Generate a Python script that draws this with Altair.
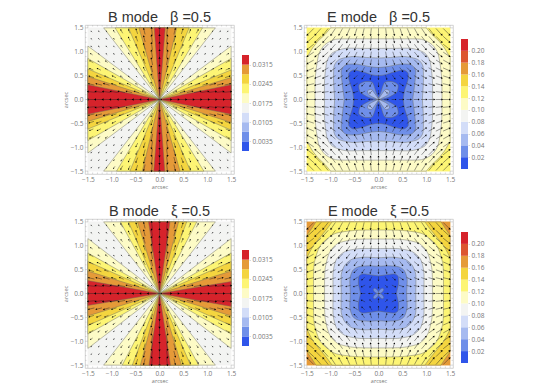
import altair as alt
import pandas as pd
import math

# ---------- colours and colour-bar levels ----------
b_bar_colors = ["#2f55ea", "#6f8fe9", "#a6baf0", "#d3ddf8", "#f3f4f2", "#fdfbc6", "#fdf574", "#f4d53f", "#e59a38", "#d6232b"]
e_bar_colors = ["#2f55ea", "#6f8fe9", "#a6baf0", "#d3ddf8", "#f3f4f2", "#fdfbc6", "#fdf574", "#f4d53f", "#e59a38", "#dc5630", "#d6232b"]
b_bar_step = 0.0035
e_bar_step = 0.02
b_bar_labels = [0.0035, 0.0105, 0.0175, 0.0245, 0.0315]
e_bar_labels = [0.02, 0.04, 0.06, 0.08, 0.10, 0.12, 0.14, 0.16, 0.18, 0.20]
major_ticks = [-1.5, -1.0, -0.5, 0.0, 0.5, 1.0, 1.5]
minor_ticks = [-1.4, -1.3, -1.2, -1.1, -0.9, -0.8, -0.7, -0.6, -0.4, -0.3, -0.2, -0.1,
               0.1, 0.2, 0.3, 0.4, 0.6, 0.7, 0.8, 0.9, 1.1, 1.2, 1.3, 1.4]

# ---------- B mode wedges: where each band's boundary meets the frame ----------
wedge_colors = ["#fdfbc6", "#fdf574", "#f4d53f", "#e59a38", "#d6232b"]
b1_side_upper = [1.12, 0.86, 0.62, 0.46, 0.31]
b1_side_lower = [1.12, 0.86, 0.64, 0.48, 0.31]
b1_top_left = [1.17, 0.93, 0.65, 0.43, 0.11]
b1_top_right = [1.17, 0.90, 0.62, 0.36, 0.12]
b2_side_upper = [1.15, 0.85, 0.67, 0.47, 0.25]
b2_side_lower = [1.15, 0.85, 0.67, 0.47, 0.27]
b2_top_left = [1.17, 0.82, 0.65, 0.46, 0.23]
b2_top_right = [1.17, 0.78, 0.57, 0.40, 0.22]

# ---------- E mode contours, first quadrant (x, y) ----------
e1_bg = "#fdf574"
e1_contours = [
    ("#fdfbc6", "linear-closed", [1.5, 1.5, 1.38, 1.27, 1.12, 1.0, 0.5, 0.0], [0.0, 0.88, 1.08, 1.22, 1.36, 1.5, 1.5, 1.5]),
    ("#f3f4f2", "cardinal-closed", [1.33, 1.32, 1.25, 1.12, 0.9, 0.5, 0.0], [0.0, 0.5, 0.95, 1.15, 1.26, 1.27, 1.27]),
    ("#d3ddf8", "cardinal-closed", [1.13, 1.13, 1.08, 0.96, 0.7, 0.3, 0.0], [0.0, 0.4, 0.8, 0.98, 1.07, 1.07, 1.07]),
    ("#a6baf0", "cardinal-closed", [0.92, 0.94, 0.93, 0.82, 0.55, 0.25, 0.0], [0.0, 0.35, 0.7, 0.84, 0.9, 0.88, 0.87]),
    ("#6f8fe9", "cardinal-closed", [0.72, 0.75, 0.78, 0.68, 0.45, 0.2, 0.0], [0.0, 0.25, 0.6, 0.73, 0.74, 0.69, 0.67]),
    ("#2f55ea", "cardinal-closed", [0.52, 0.55, 0.62, 0.62, 0.52, 0.3, 0.15, 0.0], [0.0, 0.2, 0.42, 0.55, 0.62, 0.57, 0.52, 0.5]),
]
e2_bg = "#e59a38"
e2_contours = [
    ("#f4d53f", "linear-closed", [1.5, 1.5, 1.4, 1.31, 0.5, 0.0], [0.0, 1.22, 1.36, 1.5, 1.5, 1.5]),
    ("#fdf574", "linear-closed", [1.5, 1.5, 1.38, 1.22, 1.08, 0.97, 0.5, 0.0], [0.0, 0.75, 0.98, 1.18, 1.35, 1.5, 1.5, 1.5]),
    ("#fdfbc6", "cardinal-closed", [1.36, 1.35, 1.22, 0.92, 0.5, 0.0], [0.0, 0.6, 1.0, 1.25, 1.32, 1.33]),
    ("#f3f4f2", "cardinal-closed", [1.13, 1.12, 1.03, 0.85, 0.5, 0.0], [0.0, 0.5, 0.85, 1.05, 1.13, 1.14]),
    ("#d3ddf8", "cardinal-closed", [0.95, 0.95, 0.88, 0.7, 0.4, 0.0], [0.0, 0.45, 0.72, 0.88, 0.94, 0.94]),
    ("#a6baf0", "cardinal-closed", [0.78, 0.78, 0.7, 0.55, 0.3, 0.0], [0.0, 0.4, 0.6, 0.72, 0.76, 0.75]),
    ("#6f8fe9", "cardinal-closed", [0.59, 0.6, 0.54, 0.42, 0.2, 0.0], [0.0, 0.3, 0.48, 0.56, 0.58, 0.57]),
    ("#2f55ea", "cardinal-closed", [0.38, 0.42, 0.41, 0.33, 0.15, 0.0], [0.0, 0.2, 0.36, 0.41, 0.39, 0.37]),
]
# petals along the diagonals, first-quadrant copy (x, y)
e1_petals = [
    ("#6f8fe9", [0.0, 0.2, 0.38, 0.41, 0.3, 0.13, 0.05], [0.0, 0.04, 0.15, 0.3, 0.37, 0.36, 0.15]),
    ("#a6baf0", [0.0, 0.1, 0.2, 0.23, 0.15, 0.06], [0.0, 0.04, 0.1, 0.18, 0.21, 0.1]),
]
e2_petals = [
    ("#6f8fe9", [0.0, 0.07, 0.11, 0.08, 0.02], [0.0, 0.02, 0.08, 0.11, 0.07]),
]

# ---------- arrows: 19 x 19 field, one quadrant tables indexed [row][col] ----------
arrow_step = 3 / 19
arrow_deg = [
    [0, 0, 0, 0, 0, 0, 0, 0, 0, 0],
    [90, 45, 27, 18, 14, 11, 9, 8, 7, 6],
    [90, 63, 45, 34, 27, 22, 18, 16, 14, 13],
    [90, 72, 56, 45, 37, 31, 27, 23, 21, 18],
    [90, 76, 63, 53, 45, 39, 34, 30, 27, 24],
    [90, 79, 68, 59, 51, 45, 40, 36, 32, 29],
    [90, 81, 72, 63, 56, 50, 45, 41, 37, 34],
    [90, 82, 74, 67, 60, 54, 49, 45, 41, 38],
    [90, 83, 76, 69, 63, 58, 53, 49, 45, 42],
    [90, 84, 77, 72, 66, 61, 56, 52, 48, 45],
]
b_len = [
    [8, 16, 16, 16, 16, 16, 16, 16, 16, 16],
    [16, 3, 8, 10, 12, 14, 15, 15, 15, 15],
    [16, 8, 3, 5, 8, 9, 10, 12, 12, 12],
    [16, 10, 5, 3, 4, 5, 8, 8, 10, 10],
    [16, 12, 8, 4, 3, 3, 5, 5, 8, 8],
    [16, 14, 9, 5, 3, 3, 3, 5, 5, 8],
    [16, 15, 10, 8, 5, 3, 3, 3, 3, 5],
    [16, 15, 12, 8, 5, 5, 3, 3, 3, 3],
    [16, 15, 12, 10, 8, 5, 3, 3, 3, 3],
    [16, 15, 12, 10, 8, 8, 5, 3, 3, 3],
]
e_len = [
    [3, 8, 8, 9, 9, 10, 11, 12, 13, 14],
    [8, 6, 8, 9, 9, 10, 11, 12, 13, 14],
    [8, 8, 8, 9, 10, 10, 11, 12, 13, 14],
    [9, 9, 9, 9, 10, 11, 11, 12, 13, 14],
    [9, 9, 10, 10, 10, 11, 12, 13, 14, 15],
    [10, 10, 10, 11, 11, 12, 12, 13, 14, 15],
    [11, 11, 11, 11, 12, 12, 13, 14, 15, 16],
    [12, 12, 12, 12, 13, 13, 14, 15, 16, 17],
    [13, 13, 13, 13, 14, 14, 15, 16, 17, 18],
    [14, 14, 14, 14, 15, 15, 16, 17, 18, 19],
]

DOM = [-1.56, 1.56]
AX = alt.Axis(values=major_ticks, format=".1f", domain=False, grid=False, ticks=False,
              labelFontSize=6.5, labelColor="#777777", labelPadding=2,
              titleFontSize=5.5, titleColor="#777777", titleFontWeight="normal", titlePadding=2,
              labelFont="Open Sans", titleFont="Open Sans", labelFlush=False)
SC = alt.Scale(domain=DOM, nice=False)


def xe(field="x"):
    return alt.X(f"{field}:Q", scale=SC, title="arcsec", axis=AX)


def ye(field="y"):
    return alt.Y(f"{field}:Q", scale=SC, title="arcsec", axis=AX)


LINE = "#6b6b5c"


def polygon(xs, ys, color, interp, stroke=True):
    df = pd.DataFrame({"x": xs, "y": ys, "i": range(len(xs))})
    kw = {"tension": 0.3} if interp.startswith("cardinal") else {}
    return alt.Chart(df).mark_line(
        interpolate=interp, fill=color, stroke=LINE if stroke else color,
        strokeWidth=0.45, clip=True, **kw,
    ).encode(x=xe(), y=ye(), order="i:Q")


def mirrored(qx, qy):
    xs, ys = list(qx), list(qy)
    xs += [-v for v in reversed(qx[:-1])]
    ys += list(reversed(qy[:-1]))
    xs2 = [-v for v in qx[1:]] + [v for v in reversed(qx[1:-1])]
    ys2 = [-v for v in qy[1:]] + [-v for v in reversed(qy[1:-1])]
    return xs + xs2, ys + ys2


def ticks():
    out = []
    for vals, size in ((major_ticks, 3), (minor_ticks, 1.5)):
        df = pd.DataFrame({"x": vals, "y": vals})
        base = alt.Chart(df).mark_rule(color="#b5b5b5", strokeWidth=0.5)
        out.append(base.encode(x=xe(), y=alt.value(149), y2=alt.value(149 - size)))
        out.append(base.encode(x=xe(), y=alt.value(0), y2=alt.value(size)))
        out.append(base.encode(y=ye(), x=alt.value(0), x2=alt.value(size)))
        out.append(base.encode(y=ye(), x=alt.value(149), x2=alt.value(149 - size)))
    return out


def arrows(lengths, sign_y):
    rows = []
    for ky in range(-9, 10):
        for kx in range(-9, 10):
            deg = arrow_deg[abs(ky)][abs(kx)]
            L = lengths[abs(ky)][abs(kx)] / 100
            ux = math.cos(math.radians(deg)) * (1 if kx >= 0 else -1)
            uy = math.sin(math.radians(deg)) * (1 if ky >= 0 else -1) * sign_y
            cx, cy = kx * arrow_step, ky * arrow_step
            rows.append({
                "x": cx - ux * L / 2, "y": cy - uy * L / 2,
                "x2": cx + ux * L / 2, "y2": cy + uy * L / 2,
                "a": (90 - math.degrees(math.atan2(uy, ux))) % 360,
                "s": 0.6 + 28 * L,
            })
    df = pd.DataFrame(rows)
    shaft = alt.Chart(df).mark_rule(color="#222222", strokeWidth=0.45).encode(x=xe(), y=ye(), x2="x2:Q", y2="y2:Q")
    head = alt.Chart(df).mark_point(shape="triangle", filled=True, color="#000000", opacity=1).encode(
        x=xe("x2"), y=ye("y2"),
        angle=alt.Angle("a:Q", scale=None),
        size=alt.Size("s:Q", scale=None, legend=None),
    )
    return [shaft, head]


def square(color):
    return polygon([-1.5, 1.5, 1.5, -1.5], [-1.5, -1.5, 1.5, 1.5], color, "linear-closed", stroke=False)


def panel(layers, title):
    return alt.layer(*layers, *ticks()).resolve_scale(x="shared", y="shared").properties(
        width=149, height=149,
        title=alt.TitleParams(title, fontSize=14.5, font="Liberation Sans", fontWeight="normal", color="#333333", offset=0, dy=1),
    )


def b_panel(up, low, tl, tr, title):
    layers = [square("#f3f4f2")]
    for i, c in enumerate(wedge_colors):
        s = 1.5
        layers.append(polygon([0, s, s], [0, up[i], -low[i]], c, "linear-closed"))
        layers.append(polygon([0, -s, -s], [0, low[i], -up[i]], c, "linear-closed"))
        layers.append(polygon([0, -tl[i], tr[i]], [0, s, s], c, "linear-closed"))
        layers.append(polygon([0, -tr[i], tl[i]], [0, -s, -s], c, "linear-closed"))
    return panel(layers + arrows(b_len, 1), title)


def e_panel(bg, contours, petals, title):
    layers = [square(bg)]
    for c, interp, qx, qy in contours:
        xs, ys = mirrored(qx, qy)
        layers.append(polygon(xs, ys, c, interp))
    for c, qx, qy in petals:
        for sx in (1, -1):
            for sy in (1, -1):
                layers.append(polygon([sx * v for v in qx], [sy * v for v in qy], c, "cardinal-closed"))
    return panel(layers + arrows(e_len, -1), title)


def colorbar(colors, step, labels, bottom_px, top_px, fmt):
    unit = (bottom_px - top_px) / (len(colors) * step)
    lo = -(149 - bottom_px) / unit
    hi = len(colors) * step + top_px / unit
    df = pd.DataFrame({"lo": [i * step for i in range(len(colors))],
                       "hi": [(i + 1) * step for i in range(len(colors))],
                       "c": colors})
    return alt.Chart(df).mark_rect().encode(
        y=alt.Y("lo:Q", scale=alt.Scale(domain=[lo, hi], nice=False, zero=False), title=None,
                axis=alt.Axis(orient="right", values=labels, format=fmt, domain=False, grid=False, offset=-47,
                              tickColor="#b5b5b5", tickSize=1.5, tickWidth=0.5, labelFontSize=6.5,
                              labelColor="#777777", labelPadding=1.5, labelFont="Open Sans")),
        y2="hi:Q",
        x=alt.value(0), x2=alt.value(7),
        color=alt.Color("c:N", scale=None),
    ).properties(width=54, height=149, view=alt.ViewConfig(stroke=None))


SP = "\u00a0\u00a0\u00a0"
chart = alt.concat(
    b_panel(b1_side_upper, b1_side_lower, b1_top_left, b1_top_right, f"B mode{SP}β =0.5"),
    colorbar(b_bar_colors, b_bar_step, b_bar_labels, 126, 30, ".4f"),
    e_panel(e1_bg, e1_contours, e1_petals, f"E mode{SP}β =0.5"),
    colorbar(e_bar_colors, e_bar_step, e_bar_labels, 144, 14, ".2f"),
    b_panel(b2_side_upper, b2_side_lower, b2_top_left, b2_top_right, f"B mode{SP}ξ =0.5"),
    colorbar(b_bar_colors, b_bar_step, b_bar_labels, 127, 31, ".4f"),
    e_panel(e2_bg, e2_contours, e2_petals, f"E mode{SP}ξ =0.5"),
    colorbar(e_bar_colors, e_bar_step, e_bar_labels, 144, 13, ".2f"),
    columns=4, spacing={"row": 45, "column": 8}, bounds="flush",
).properties(
    padding={"left": 54, "top": 1, "right": 0, "bottom": 0},
).configure_view(stroke="#c8c8c8", strokeWidth=0.8)

chart.save("out.html", embed_options={"renderer": "svg", "actions": False})
